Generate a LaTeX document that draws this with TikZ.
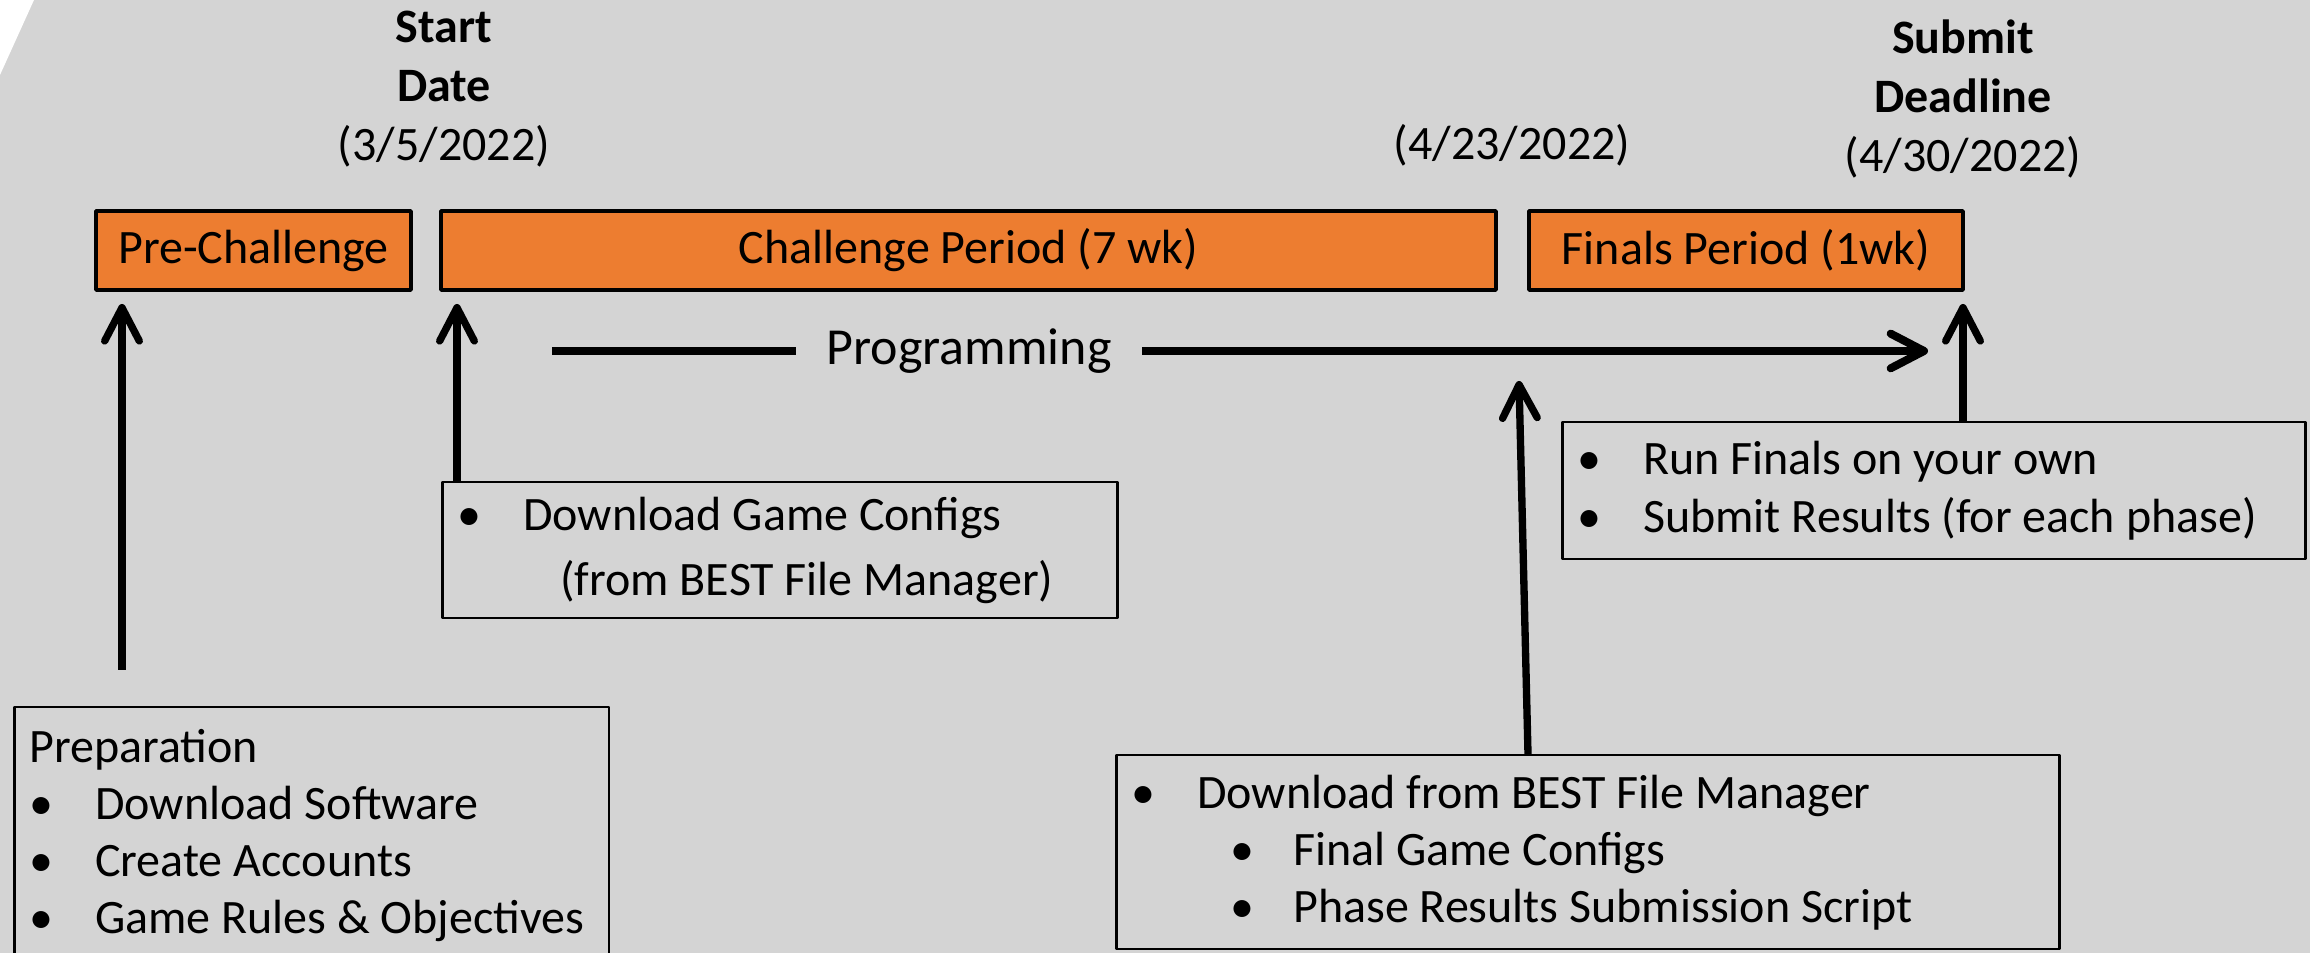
\documentclass[tikz,border=0pt]{standalone}
\usepackage{fontspec}
\setmainfont{Carlito}
\usetikzlibrary{arrows.meta}

\newcommand\bul{\hspace*{3.6pt}\makebox[0pt]{•}\hspace*{16.2pt}}
\newcommand\subbul{\hspace*{33.3pt}\makebox[0pt]{•}\hspace*{15.3pt}}

\begin{document}
\begin{tikzpicture}[x=0.3pt,y=-0.3pt,line join=bevel,
  font=\fontsize{14.4pt}{17.2pt}\selectfont,
  phase/.style={draw=black,fill=phasecol,line width=1.2pt,minimum height=23.7pt,inner sep=0pt},
  note/.style={draw=black,line width=0.75pt,anchor=north west,align=flush left,inner xsep=4.5pt,inner ysep=0pt},
  datelbl/.style={align=center,font=\fontsize{14.4pt}{17.7pt}\selectfont},
  upar/.style={line width=2.2pt,-{Straight Barb[length=10pt,width=10.4pt,round]}}]
%%
  \definecolor{bgcol}{rgb}{0.83,0.83,0.83}
  \definecolor{phasecol}{rgb}{0.93,0.49,0.19}
  \useasboundingbox (0,0) rectangle (2310,953);
  \fill [bgcol] (0,0) rectangle (2310,953);
  \fill [white] (0,0) -- (34,0) -- (0,75) -- cycle;
  \clip (0,0) rectangle (2310,953);
%% phases
  \node (prechal) at (253.5,250.5) [phase,minimum width=94.5pt] {Pre-Challenge};
  \node (chal) at (968.5,250.5) [phase,minimum width=316.5pt] {Challenge Period (7 wk)};
  \node (finals) at (1746,250.5) [phase,minimum width=130.2pt] {Finals Period (1wk)};
%% dates
  \node (startdate) at (444,89) [datelbl] {\textbf{Start}\\\textbf{Date}\\(3/5/2022)};
  \node (cutoff) at (1512,145) [datelbl] {(4/23/2022)};
  \node (deadline) at (1963,99) [datelbl] {\textbf{Submit}\\\textbf{Deadline}\\(4/30/2022)};
%% tasks
  \node (prep) at (13,706) [note,text width=169.5pt,minimum height=76.8pt,font=\fontsize{14.4pt}{17.1pt}\selectfont] {Preparation\\\bul Download Software\\\bul Create Accounts\\\bul Game Rules \& Objectives};
  \node (configs) at (441,481) [note,text width=193.5pt,minimum height=40.8pt] {\bul Download Game Configs\\[2.3pt]\hspace*{30.9pt}(from BEST File Manager)};
  \node (runfinals) at (1561,421) [note,text width=213.9pt,minimum height=41.1pt,font=\fontsize{14.4pt}{17.4pt}\selectfont] {\bul Run Finals on your own\\\bul Submit Results (for each phase)};
  \node (fileman) at (1115,754) [note,text width=273.9pt,minimum height=58.2pt,font=\fontsize{14.4pt}{17.1pt}\selectfont] {\bul Download from BEST File Manager\\\subbul Final Game Configs\\\subbul Phase Results Submission Script};
%% programming
  \node (prog) at (969,351) [inner xsep=9pt,font=\fontsize{15.6pt}{18pt}\selectfont] {Programming};
  \coordinate (progstart) at (552,351);
  \coordinate (progend) at (1928,351);
  \draw [line width=2.4pt] (progstart) -- (prog);
  \draw [upar,line width=2.4pt] (prog) -- (progend);
%% arrows
  \coordinate (prepfoot) at (122,670);
  \coordinate (preptip) at (122,304);
  \coordinate (cfgtip) at (457,304);
  \coordinate (fmfoot) at (1528,754);
  \coordinate (fmtip) at (1519,381);
  \coordinate (runtip) at (1963,304);
  \draw [upar] (prepfoot) -- (preptip);
  \draw [upar] (configs.north -| cfgtip) -- (cfgtip);
  \draw [upar] (fmfoot) -- (fmtip);
  \draw [upar] (runfinals.north -| runtip) -- (runtip);
%
\end{tikzpicture}
\end{document}
